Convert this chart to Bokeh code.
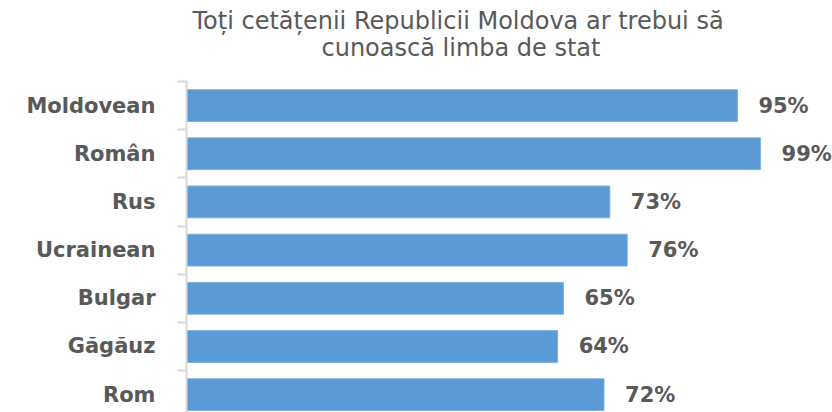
from bokeh.plotting import figure
from bokeh.models import (ColumnDataSource, Range1d, FixedTicker, LabelSet, Title)
from bokeh.core.properties import value
from bokeh.embed import file_html
from bokeh.resources import INLINE

# ---- data ----
categories = ["Moldovean", "Român", "Rus", "Ucrainean", "Bulgar", "Găgăuz", "Rom"]
values = [95, 99, 73, 76, 65, 64, 72]
title_lines = ["Toți cetățenii Republicii Moldova ar trebui să", "cunoască limba de stat"]

FONT = "DejaVu Sans"
TEXT_COLOR = "#595959"
BAR_COLOR = "#5B9BD5"
AXIS_COLOR = "#D9D9D9"

idx = list(range(len(categories)))
src = ColumnDataSource(dict(
    y=idx,
    v=values,
    lbl=[f"{v}%" for v in values],
))

Y_TOP = -0.52
Y_BOT = 6.37
p = figure(width=832, height=412, output_backend="svg", toolbar_location=None,
           x_range=Range1d(0, 111.4), y_range=Range1d(Y_BOT, Y_TOP),
           x_axis_location=None,
           min_border_left=186, min_border_right=0, min_border_top=80, min_border_bottom=0)
p.outline_line_color = None
p.xgrid.visible = False
p.ygrid.visible = False
p.background_fill_color = "white"
p.border_fill_color = "white"

p.hbar(y="y", left=0, right="v", height=0.66, source=src,
       fill_color=BAR_COLOR, line_color="#7FB2E0", line_width=1)

ax = p.yaxis[0]
ax.ticker = FixedTicker(ticks=idx, minor_ticks=[i - 0.5 for i in range(len(categories) + 1)])
ax.major_label_overrides = {i: c for i, c in zip(idx, categories)}
ax.major_tick_out = 0
ax.major_tick_in = 0
ax.minor_tick_out = 9
ax.minor_tick_in = 0
ax.minor_tick_line_color = AXIS_COLOR
ax.minor_tick_line_width = 2
ax.axis_line_color = AXIS_COLOR
ax.axis_line_width = 2
ax.major_label_standoff = 22
ax.major_label_text_font = FONT
ax.major_label_text_font_style = "bold"
ax.major_label_text_font_size = "21px"
ax.major_label_text_color = TEXT_COLOR

labels = LabelSet(x="v", y="y", text="lbl", source=src, x_offset=21,
                  text_baseline="middle", text_align="left",
                  text_font=value(FONT), text_font_style="bold", text_font_size="21px",
                  text_color=TEXT_COLOR)
p.add_layout(labels)

# title: second line nearest the frame, first line above it
for line, off, so in [(title_lines[1], 135, 38), (title_lines[0], 6, -44)]:
    p.add_layout(Title(text=line, align="left", offset=off, standoff=so,
                       text_font=FONT, text_font_size="24px",
                       text_font_style="normal", text_color=TEXT_COLOR), "above")

open("out.html", "w").write(file_html(p, INLINE))
